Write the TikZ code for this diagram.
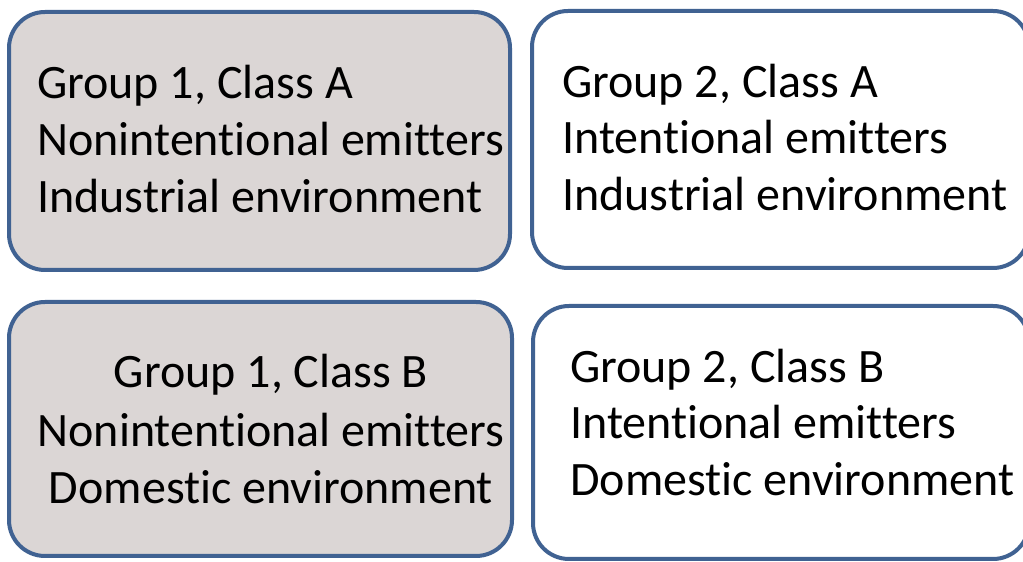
\documentclass[tikz,border=0pt]{standalone}
\usepackage{fontspec}
\setmainfont[Ligatures=NoCommon]{Carlito}
\definecolor{boxline}{RGB}{64,98,146}
\definecolor{boxgray}{RGB}{219,214,213}
\tikzset{
  gbox/.style={draw=boxline, line width=4pt, rounded corners=36pt, inner sep=0pt},
  gfill/.style={gbox, fill=boxgray},
  wfill/.style={gbox, fill=white},
  lbl/.style={inner sep=0pt, font=\fontsize{48}{57}\selectfont, text=black}
}
\begin{document}
\begin{tikzpicture}[x=1pt,y=1pt]
\useasboundingbox[fill=white] (0,0) rectangle (1023,562);
\begin{scope}
\clip (0,0) rectangle (1023,562);
\node[gfill, minimum width=501pt, minimum height=258pt] (b1) at (259.5,421) {};
\node[wfill, minimum width=497pt, minimum height=257pt] (b2) at (780.5,422.5) {};
\node[gfill, minimum width=503pt, minimum height=254pt] (b3) at (260.5,133) {};
\node[wfill, minimum width=496pt, minimum height=253pt] (b4) at (781,129.5) {};
\end{scope}
% box 1
\node[lbl, anchor=base west] (t11) at (37,463) {Group 1, Class A};
\node[lbl, anchor=base west] (t12) at (37,406) {Nonintentional emitters};
\node[lbl, anchor=base west] (t13) at (37,349) {Industrial environment};
% box 2
\node[lbl, anchor=base west] (t21) at (562,464) {Group 2, Class A};
\node[lbl, anchor=base west] (t22) at (562,408) {Intentional emitters};
\node[lbl, anchor=base west] (t23) at (562,351) {Industrial environment};
% box 3
\node[lbl, anchor=base] (t31) at (271,174) {Group 1, Class B};
\node[lbl, anchor=base] (t32) at (271,115) {Nonintentional emitters};
\node[lbl, anchor=base] (t33) at (271,58) {Domestic environment};
% box 4
\node[lbl, anchor=base west] (t41) at (570,179) {Group 2, Class B};
\node[lbl, anchor=base west] (t42) at (570,123) {Intentional emitters};
\node[lbl, anchor=base west] (t43) at (570,66) {Domestic environment};
\end{tikzpicture}
\end{document}
